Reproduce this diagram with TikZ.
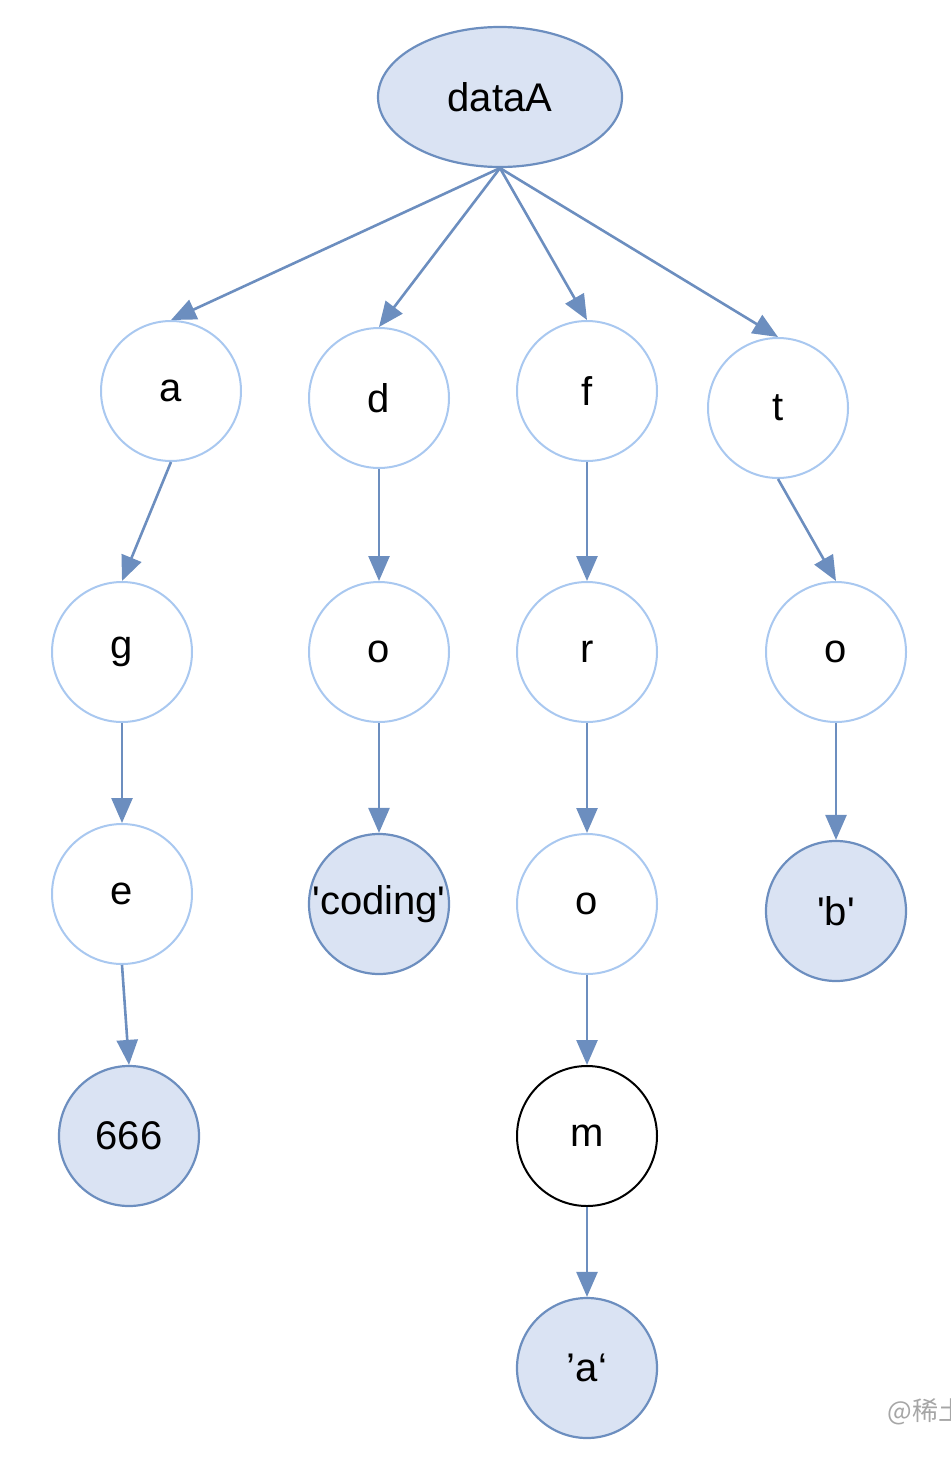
\documentclass[tikz,border=0pt]{standalone}
\usepackage{fontspec}
\setmainfont{Liberation Sans}
\newfontfamily\cjkfont{Noto Sans CJK SC}
\usetikzlibrary{arrows.meta,shapes.geometric}
\definecolor{leaffill}{HTML}{DAE3F3}
\definecolor{leafline}{HTML}{6C8EBF}
\definecolor{keyline}{HTML}{A9C8F0}
\begin{document}
\begin{tikzpicture}[x=1pt, y=-1pt,
  font=\fontsize{40}{46}\selectfont,
  key/.style={circle, draw=keyline, line width=2pt, fill=white, minimum size=140pt, inner sep=0pt},
  leaf/.style={circle, draw=leafline, line width=2.2pt, fill=leaffill, minimum size=140pt, inner sep=0pt},
  link/.style={draw=leafline, line width=2.6pt, -{Triangle[length=25pt,width=21pt]}}]
\useasboundingbox (0,0) rectangle (950,1458);
\node (root) at (500,97) [ellipse, draw=leafline, line width=2.2pt, fill=leaffill, minimum width=244pt, minimum height=140pt, inner sep=0pt] {dataA};

\node (a) at (171,391) [key] {a};
\node (d) at (379,398) [key] {d};
\node (f) at (587,391) [key] {f};
\node (t) at (778,408) [key] {t};

\node (g) at (122,652) [key] {g};
\node (o1) at (379,652) [key] {o};
\node (r) at (587,652) [key] {r};
\node (o3) at (836,652) [key] {o};

\node (e) at (122,894) [key] {e};
\node (coding) at (379,904) [leaf] {\textquotesingle coding\textquotesingle};
\node (o2) at (587,904) [key] {o};
\node (b) at (836,911) [leaf] {\textquotesingle b\textquotesingle};

\node (v666) at (129,1136) [leaf] {666};
\node (m) at (587,1136) [key, draw=black] {m};
\node (va) at (587,1368) [leaf] {’a‘};

\draw [link] (root.south) -- (a.north);
\draw [link] (root.south) -- (d.north);
\draw [link] (root.south) -- (f.north);
\draw [link] (root.south) -- (t.north);
\draw [link] (a.south) -- (g.north);
\draw [link] (g.south) -- (e.north);
\draw [link] (e.south) -- (v666.north);
\draw [link] (d.south) -- (o1.north);
\draw [link] (o1.south) -- (coding.north);
\draw [link] (f.south) -- (r.north);
\draw [link] (r.south) -- (o2.north);
\draw [link] (o2.south) -- (m.north);
\draw [link] (m.south) -- (va.north);
\draw [link] (t.south) -- (o3.north);
\draw [link] (o3.south) -- (b.north);

\node (mark) at (884,1412) [anchor=west, text=gray!70, font=\cjkfont\fontsize{26}{30}\selectfont] {@稀土掘金技术社区};
\end{tikzpicture}
\end{document}
